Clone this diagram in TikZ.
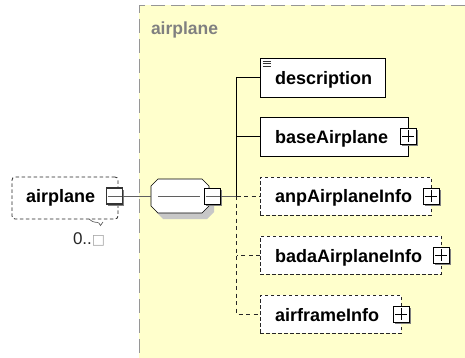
\documentclass[tikz,border=0pt]{standalone}
\usepackage{fontspec}
\setmainfont{Liberation Sans}
\newfontfamily\symbolfont{DejaVu Sans}
\usetikzlibrary{shadows}
\definecolor{panelfill}{RGB}{255,255,204}
\definecolor{panelline}{RGB}{150,150,150}
\definecolor{linkgray}{RGB}{95,95,95}
\begin{document}
\begin{tikzpicture}[x=1pt,y=-1pt,
  every node/.style={inner sep=0pt, outer sep=0pt},
  nametext/.style={font=\fontsize{18}{20}\selectfont\bfseries, anchor=base west, text=black},
  elem/.style={draw=black, line width=0.8pt, fill=white, anchor=north west,
    drop shadow={shadow xshift=1.3pt, shadow yshift=-1.3pt, fill=black!65, opacity=1}},
  optelem/.style={draw=black!85, line width=0.8pt, dash pattern=on 3.5pt off 2.5pt,
    fill=white, anchor=north west},
  btnbase/.style={draw=black, line width=0.7pt, fill=white, minimum size=16pt,
    drop shadow={shadow xshift=1.6pt, shadow yshift=-1.6pt, fill=black!50, opacity=1}},
  plusbtn/.style={btnbase, path picture={
    \draw[line width=0.6pt]
      ([xshift=2pt]path picture bounding box.west) -- ([xshift=-2pt]path picture bounding box.east)
      ([yshift=-2pt]path picture bounding box.north) -- ([yshift=2pt]path picture bounding box.south);}},
  minusbtn/.style={btnbase, path picture={
    \draw[line width=0.7pt, linkgray]
      ([xshift=1pt]path picture bounding box.west) -- ([xshift=-1pt]path picture bounding box.east);}},
  seqframe/.style={minimum width=58pt, minimum height=34pt},
  solidlink/.style={draw=black, line width=0.8pt},
  graylink/.style={draw=linkgray, line width=0.8pt},
  optlink/.style={draw=black!85, line width=0.8pt, dash pattern=on 4pt off 3.5pt}
]
\useasboundingbox (0,0) rectangle (465,358);

% content model panel
\fill[panelfill] (139,5) rectangle (465,358);
\draw[panelline, line width=0.8pt, dash pattern=on 14pt off 6pt] (465,5) -- (139,5) -- (139,358);
\node[font=\fontsize{17.5}{20}\selectfont\bfseries, text=black!50, anchor=base west] (paneltitle) at (151,34.5) {airplane};

% root element (optional, unbounded)
\node[optelem, rounded corners=3pt, minimum width=106pt, minimum height=42pt] (root) at (12,177) {};
\node[nametext] (rootname) at (26,202.5) {airplane};
\node[minusbtn, draw=black!80, line width=1.1pt] (rootbtn) at (114.5,196) {};
\draw[black!70, line width=0.6pt] (89,219) .. controls (93,222) .. (98,222.5);
\draw[black!70, line width=0.6pt] (98.5,222.5) -- (100.5,225.5) -- (103,222);
\node[font=\fontsize{17}{20}\selectfont, text=black!85, anchor=base west] (occurs) at (73,244)
  {0..{\symbolfont\fontsize{14}{16}\selectfont\color{black!35}□}};

% sequence compositor: octagon with a soft shadow
\node[seqframe] (seq) at (180,196) {};
\fill[black!22, transform canvas={shift={(5pt,-6pt)}}]
  ([xshift=7pt]seq.north west) -- ([xshift=-7pt]seq.north east) -- ([yshift=-7pt]seq.north east)
  -- ([yshift=7pt]seq.south east) -- ([xshift=-7pt]seq.south east) -- ([xshift=7pt]seq.south west)
  -- ([yshift=7pt]seq.south west) -- ([yshift=-7pt]seq.north west) -- cycle;
\filldraw[fill=white, draw=black, line width=0.7pt]
  ([xshift=7pt]seq.north west) -- ([xshift=-7pt]seq.north east) -- ([yshift=-7pt]seq.north east)
  -- ([yshift=7pt]seq.south east) -- ([xshift=-7pt]seq.south east) -- ([xshift=7pt]seq.south west)
  -- ([yshift=7pt]seq.south west) -- ([yshift=-7pt]seq.north west) -- cycle;
\node[minusbtn] (seqbtn) at (212.5,196) {};
\draw[linkgray, line width=0.8pt] ([xshift=7pt]seq.west) -- ([xshift=-5pt]seqbtn.west);

% child elements
\node[elem, minimum width=125pt, minimum height=39pt] (desc) at (260,58) {};
\node[nametext] (descname) at (275,84.5) {description};
\foreach \dy in {3,5.5,8}
  \draw[black!80, line width=0.6pt] ([shift={(2.5,\dy)}]desc.north west) -- ++(8.5,0);

\node[elem, minimum width=148pt, minimum height=39pt] (base) at (260,117) {};
\node[nametext] (basename) at (275,143.5) {baseAirplane};
\node[plusbtn] (basebtn) at (base.east) {};

\node[optelem, minimum width=171pt, minimum height=38pt] (anp) at (260,177) {};
\node[nametext] (anpname) at (275,202.5) {anpAirplaneInfo};
\node[plusbtn] (anpbtn) at (anp.east) {};

\node[optelem, minimum width=181pt, minimum height=38pt] (bada) at (260,236) {};
\node[nametext] (badaname) at (275,262.5) {badaAirplaneInfo};
\node[plusbtn] (badabtn) at (bada.east) {};

\node[optelem, minimum width=141pt, minimum height=38pt] (airframe) at (260,295) {};
\node[nametext] (airframename) at (275,321.5) {airframeInfo};
\node[plusbtn] (airframebtn) at (airframe.east) {};

% connectors
\coordinate (trunk) at (236.5,196);
\draw[graylink] (rootbtn.east) -- (seq.west);
\draw[graylink] (seqbtn.east) -- (trunk);
\draw[solidlink] (desc.west) -| (trunk);
\draw[solidlink] (base.west) -- (base.west -| trunk);
\draw[optlink] (trunk) -- (anp.west);
\draw[optlink] (bada.west) -- (bada.west -| trunk);
\draw[optlink] (trunk) |- (airframe.west);
\end{tikzpicture}
\end{document}
